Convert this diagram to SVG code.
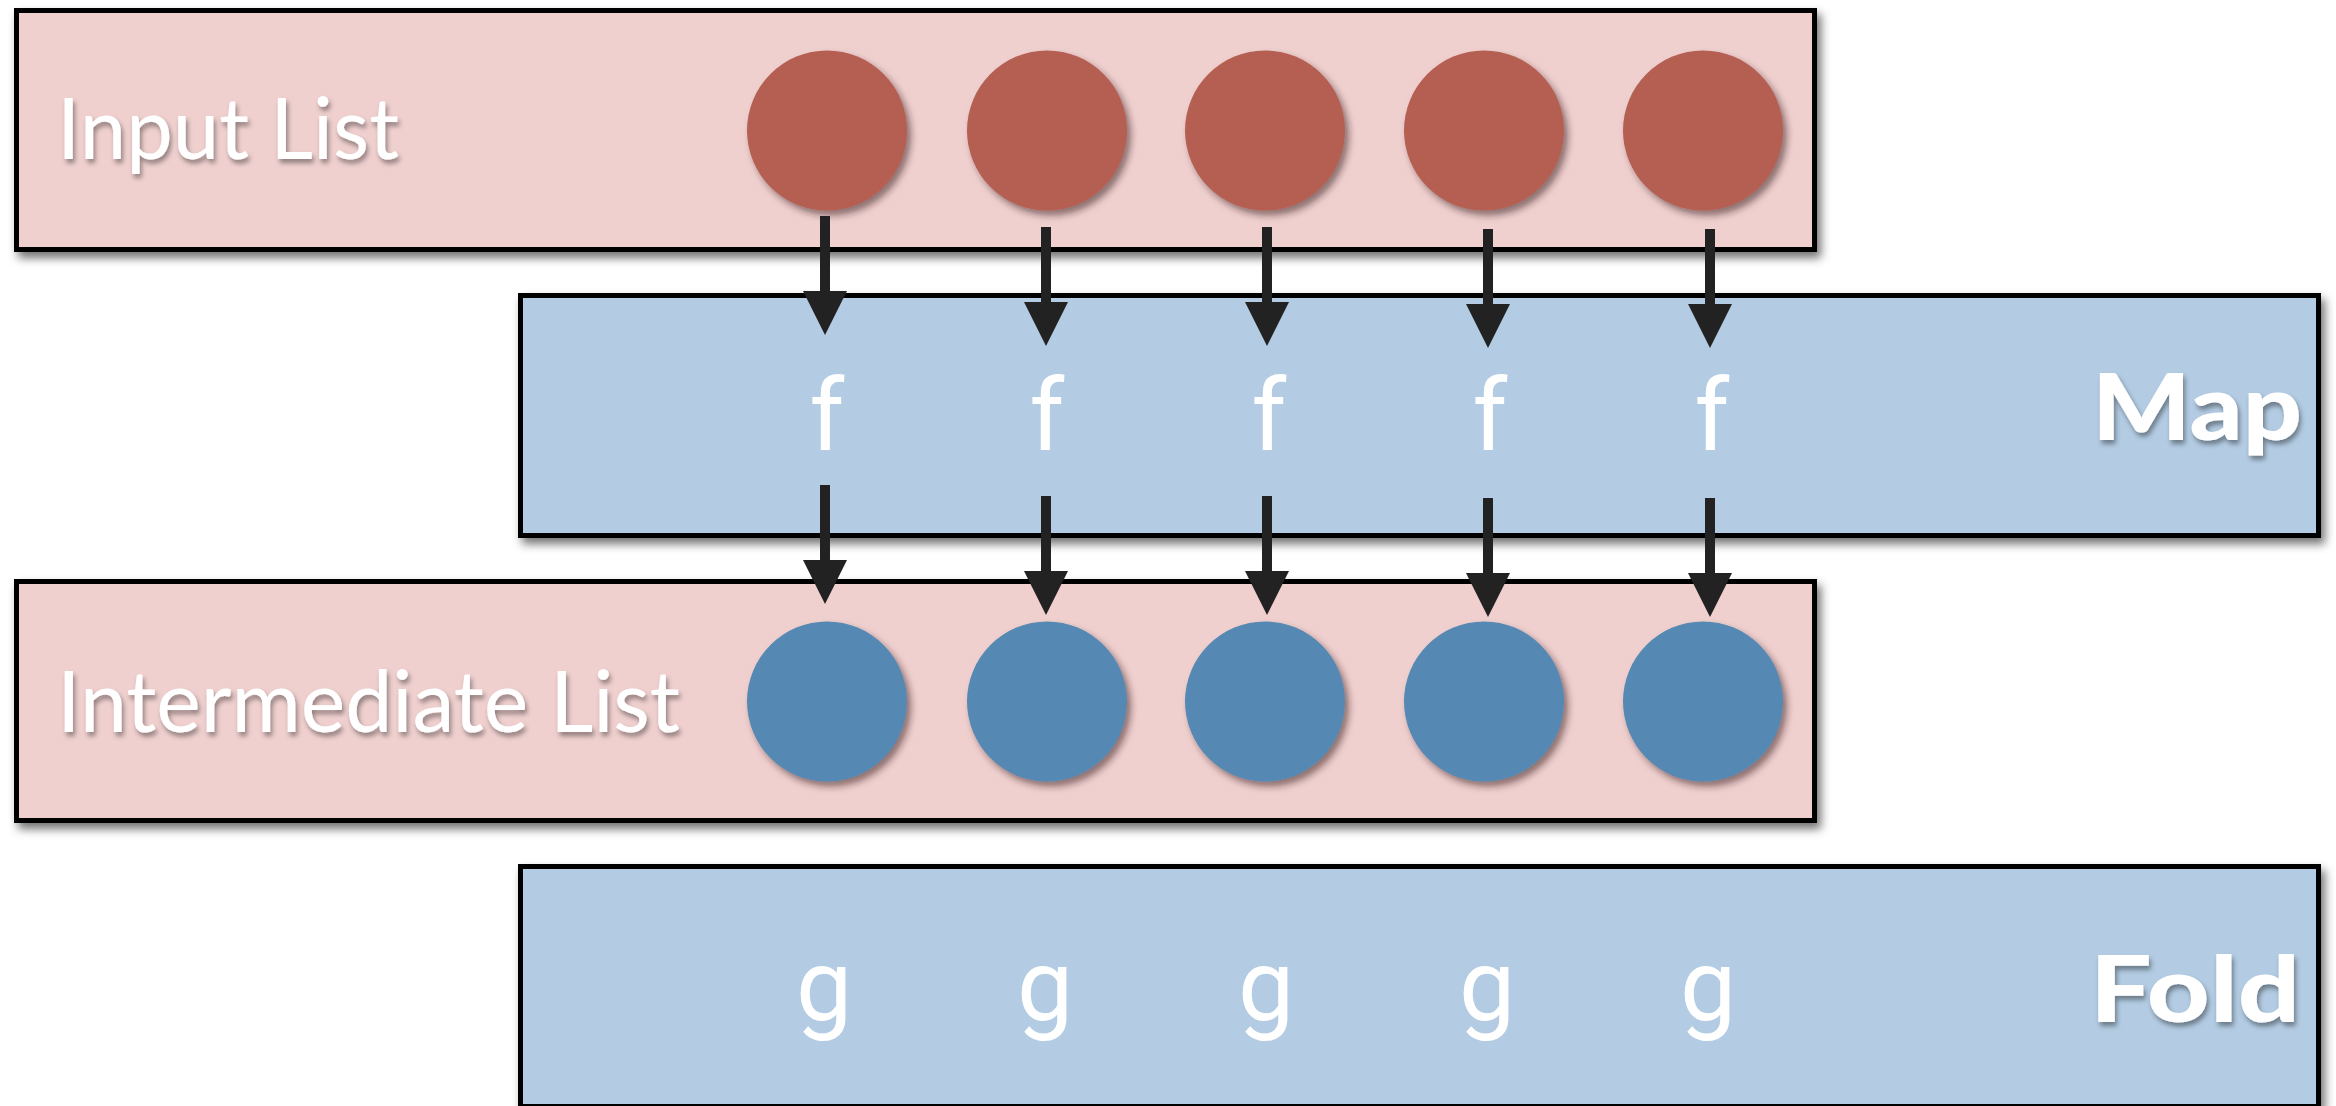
<svg xmlns="http://www.w3.org/2000/svg" width="2336" height="1106" viewBox="0 0 2336 1106">
  <defs>
    <style>
      .box { stroke: #000; stroke-width: 5; filter: url(#boxShadow); }
      .pink { fill: #EFD0CF; }
      .blue { fill: #B3CCE3; }
      .redDot { fill: #B55E52; filter: url(#dotShadow); }
      .blueDot { fill: #5588B2; filter: url(#dotShadow); }
      .label { font-family: Lato, "Open Sans", "DejaVu Sans", sans-serif; fill: #fff; font-size: 86px; filter: url(#textShadow); }
      .title { font-family: Lato, "Open Sans", "DejaVu Sans", sans-serif; fill: #fff; font-size: 92px; font-weight: 900; filter: url(#textShadow); }
      .fn { font-family: Roboto, "DejaVu Sans", sans-serif; fill: #fff; font-size: 100px; text-anchor: middle; }
      .arrow { stroke: #222; stroke-width: 10; fill: none; marker-end: url(#head); }
    </style>
    <filter id="boxShadow" x="-5%" y="-10%" width="110%" height="130%">
      <feDropShadow dx="4" dy="6" stdDeviation="5" flood-color="#000" flood-opacity="0.55"/>
    </filter>
    <filter id="dotShadow" x="-20%" y="-20%" width="150%" height="150%">
      <feDropShadow dx="4" dy="5" stdDeviation="3.5" flood-color="#3a2020" flood-opacity="0.55"/>
    </filter>
    <filter id="textShadow" x="-10%" y="-20%" width="120%" height="150%">
      <feDropShadow dx="2" dy="4" stdDeviation="2.5" flood-color="#000" flood-opacity="0.4"/>
    </filter>
    <marker id="head" markerUnits="userSpaceOnUse" markerWidth="44" markerHeight="44" refX="0" refY="22" orient="auto" viewBox="0 0 44 44">
      <path d="M0,0 L44,22 L0,44 Z" fill="#222"/>
    </marker>
  </defs>

  <rect width="2336" height="1106" fill="#fff"/>

  <g id="input-list">
    <rect class="box pink" x="16.5" y="10.5" width="1798" height="239"/>
    <text class="label" x="57" y="159" textLength="342" lengthAdjust="spacingAndGlyphs">Input List</text>
    <circle class="redDot" cx="827" cy="130.5" r="80"/>
    <circle class="redDot" cx="1047" cy="130.5" r="80"/>
    <circle class="redDot" cx="1265" cy="130.5" r="80"/>
    <circle class="redDot" cx="1484" cy="130.5" r="80"/>
    <circle class="redDot" cx="1703" cy="130.5" r="80"/>
  </g>

  <g id="map">
    <rect class="box blue" x="520.5" y="295.5" width="1798" height="240"/>
    <text class="fn" x="827" y="450">f</text>
    <text class="fn" x="1047" y="450">f</text>
    <text class="fn" x="1269" y="450">f</text>
    <text class="fn" x="1490" y="450">f</text>
    <text class="fn" x="1712" y="450">f</text>
    <text class="title" x="2302" y="440" text-anchor="end" textLength="210" lengthAdjust="spacingAndGlyphs">Map</text>
  </g>

  <g id="intermediate-list">
    <rect class="box pink" x="16.5" y="581.5" width="1798" height="239"/>
    <text class="label" x="57" y="732" textLength="623" lengthAdjust="spacingAndGlyphs">Intermediate List</text>
    <circle class="blueDot" cx="827" cy="701.5" r="80"/>
    <circle class="blueDot" cx="1047" cy="701.5" r="80"/>
    <circle class="blueDot" cx="1265" cy="701.5" r="80"/>
    <circle class="blueDot" cx="1484" cy="701.5" r="80"/>
    <circle class="blueDot" cx="1703" cy="701.5" r="80"/>
  </g>

  <g id="fold">
    <rect class="box blue" x="520.5" y="866.5" width="1798" height="240"/>
    <text class="fn" x="824" y="1020">g</text>
    <text class="fn" x="1045" y="1020">g</text>
    <text class="fn" x="1266" y="1020">g</text>
    <text class="fn" x="1487" y="1020">g</text>
    <text class="fn" x="1708" y="1020">g</text>
    <text class="title" x="2300" y="1022" text-anchor="end" textLength="210" lengthAdjust="spacingAndGlyphs">Fold</text>
  </g>

  <g id="connectors">
    <line class="arrow" x1="825" y1="216" x2="825" y2="291"/>
    <line class="arrow" x1="1046" y1="227" x2="1046" y2="302"/>
    <line class="arrow" x1="1267" y1="227" x2="1267" y2="302"/>
    <line class="arrow" x1="1488" y1="229" x2="1488" y2="304"/>
    <line class="arrow" x1="1710" y1="229" x2="1710" y2="304"/>
    <line class="arrow" x1="825" y1="485" x2="825" y2="560"/>
    <line class="arrow" x1="1046" y1="496" x2="1046" y2="571"/>
    <line class="arrow" x1="1267" y1="496" x2="1267" y2="571"/>
    <line class="arrow" x1="1488" y1="498" x2="1488" y2="573"/>
    <line class="arrow" x1="1710" y1="498" x2="1710" y2="573"/>
  </g>
</svg>
